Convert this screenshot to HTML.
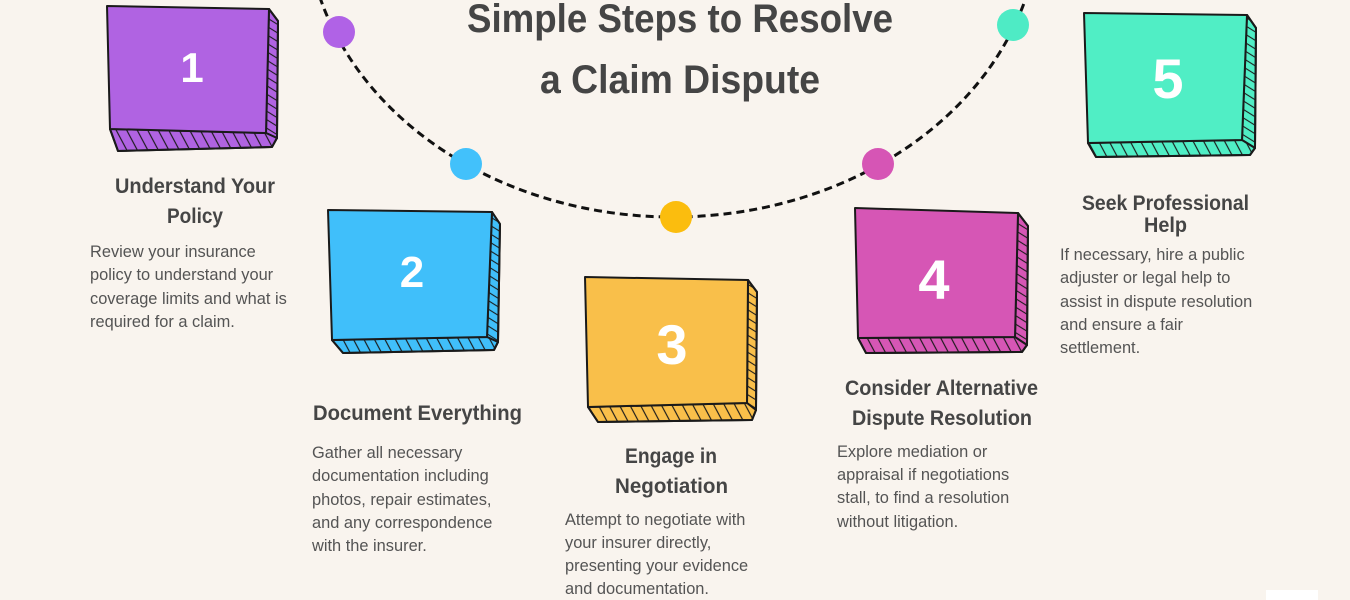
<!DOCTYPE html>
<html>
<head>
<meta charset="utf-8">
<style>
  html,body{margin:0;padding:0;background:#f9f4ee;}
  body{width:1350px;height:600px;overflow:hidden;}
  svg{display:block;}
  .h{font-family:"Liberation Sans",sans-serif;font-weight:bold;fill:#454545;}
  .b{font-family:"Liberation Sans",sans-serif;font-size:16.4px;fill:#545454;}
  .n{font-family:"Liberation Sans",sans-serif;font-weight:bold;fill:#ffffff;text-anchor:middle;}
</style>
</head>
<body>
<svg width="1350" height="600" viewBox="0 0 1350 600" xmlns="http://www.w3.org/2000/svg">
  <defs>
    <pattern id="hv" patternUnits="userSpaceOnUse" width="10.5" height="60" patternTransform="skewX(28)">
      <line x1="5" y1="0" x2="5" y2="60" stroke="#1a1a1a" stroke-width="1.3"/>
    </pattern>
    <pattern id="hh" patternUnits="userSpaceOnUse" width="60" height="8.5" patternTransform="skewY(32)">
      <line x1="0" y1="4" x2="60" y2="4" stroke="#1a1a1a" stroke-width="1.3"/>
    </pattern>
  </defs>
  <rect x="0" y="0" width="1350" height="600" fill="#f9f4ee"/>

  <!-- dashed arc -->
  <ellipse cx="673" cy="-85" rx="367" ry="302" fill="none" stroke="#111" stroke-width="3" stroke-dasharray="8 5"/>

  <!-- dots -->
  <circle cx="339" cy="32" r="16" fill="#b062e6"/>
  <circle cx="466" cy="164" r="16" fill="#42c1fb"/>
  <circle cx="676" cy="217" r="16" fill="#fbbd0e"/>
  <circle cx="878" cy="164" r="16" fill="#d655b5"/>
  <circle cx="1013" cy="25" r="16" fill="#4eebc5"/>

  <!-- Title -->
  <text class="h" x="467" y="32" font-size="40" textLength="426" lengthAdjust="spacingAndGlyphs">Simple Steps to Resolve</text>
  <text class="h" x="540" y="93" font-size="40" textLength="280" lengthAdjust="spacingAndGlyphs">a Claim Dispute</text>

  <!-- Box 1 -->
  <g stroke="#1a1a1a" stroke-width="2" stroke-linejoin="round">
    <polygon points="269,9 278,21 277,138 266,133" fill="#b063e2"/>
    <polygon points="269,9 278,21 277,138 266,133" fill="url(#hh)" stroke="none"/>
    <polygon points="110,129 266,133 277,138 272,147 118,151" fill="#b063e2"/>
    <polygon points="110,129 266,133 277,138 272,147 118,151" fill="url(#hv)" stroke="none"/>
    <polygon points="269,9 278,21 277,138 272,147 118,151 110,129" fill="none"/>
    <polygon points="107,6 269,9 266,133 110,129" fill="#b063e2"/>
  </g>
  <text class="n" x="192" y="82" font-size="42">1</text>

  <!-- Box 2 -->
  <g stroke="#1a1a1a" stroke-width="2" stroke-linejoin="round">
    <polygon points="492,212 500,224 498,342 487,337" fill="#40bffa"/>
    <polygon points="492,212 500,224 498,342 487,337" fill="url(#hh)" stroke="none"/>
    <polygon points="332,340 487,337 498,342 494,350 343,353" fill="#40bffa"/>
    <polygon points="332,340 487,337 498,342 494,350 343,353" fill="url(#hv)" stroke="none"/>
    <polygon points="492,212 500,224 498,342 494,350 343,353 332,340" fill="none"/>
    <polygon points="328,210 492,212 487,337 332,340" fill="#40bffa"/>
  </g>
  <text class="n" x="412" y="287" font-size="44">2</text>

  <!-- Box 3 -->
  <g stroke="#1a1a1a" stroke-width="2" stroke-linejoin="round">
    <polygon points="748,280 757,292 756,410 747,403" fill="#f9bf4a"/>
    <polygon points="748,280 757,292 756,410 747,403" fill="url(#hh)" stroke="none"/>
    <polygon points="588,407 747,403 756,410 752,420 598,422" fill="#f9bf4a"/>
    <polygon points="588,407 747,403 756,410 752,420 598,422" fill="url(#hv)" stroke="none"/>
    <polygon points="748,280 757,292 756,410 752,420 598,422 588,407" fill="none"/>
    <polygon points="585,277 748,280 747,403 588,407" fill="#f9bf4a"/>
  </g>
  <text class="n" x="672" y="364" font-size="56">3</text>

  <!-- Box 4 -->
  <g stroke="#1a1a1a" stroke-width="2" stroke-linejoin="round">
    <polygon points="1018,213 1028,226 1027,345 1015,337" fill="#d656b5"/>
    <polygon points="1018,213 1028,226 1027,345 1015,337" fill="url(#hh)" stroke="none"/>
    <polygon points="858,338 1015,337 1027,345 1022,352 866,353" fill="#d656b5"/>
    <polygon points="858,338 1015,337 1027,345 1022,352 866,353" fill="url(#hv)" stroke="none"/>
    <polygon points="1018,213 1028,226 1027,345 1022,352 866,353 858,338" fill="none"/>
    <polygon points="855,208 1018,213 1015,337 858,338" fill="#d656b5"/>
  </g>
  <text class="n" x="934" y="299" font-size="56">4</text>

  <!-- Box 5 -->
  <g stroke="#1a1a1a" stroke-width="2" stroke-linejoin="round">
    <polygon points="1247,15 1256,28 1255,148 1242,140" fill="#50eec5"/>
    <polygon points="1247,15 1256,28 1255,148 1242,140" fill="url(#hh)" stroke="none"/>
    <polygon points="1088,143 1242,140 1255,148 1250,155 1096,157" fill="#50eec5"/>
    <polygon points="1088,143 1242,140 1255,148 1250,155 1096,157" fill="url(#hv)" stroke="none"/>
    <polygon points="1247,15 1256,28 1255,148 1250,155 1096,157 1088,143" fill="none"/>
    <polygon points="1084,13 1247,15 1242,140 1088,143" fill="#50eec5"/>
  </g>
  <text class="n" x="1168" y="98" font-size="56">5</text>

  <!-- Step 1 text -->
  <text class="h" x="115" y="193" font-size="21" textLength="160" lengthAdjust="spacingAndGlyphs">Understand Your</text>
  <text class="h" x="167" y="223" font-size="21" textLength="56" lengthAdjust="spacingAndGlyphs">Policy</text>
  <text class="b" x="90" y="257">Review your insurance</text>
  <text class="b" x="90" y="280">policy to understand your</text>
  <text class="b" x="90" y="304">coverage limits and what is</text>
  <text class="b" x="90" y="327">required for a claim.</text>

  <!-- Step 2 text -->
  <text class="h" x="313" y="420" font-size="21" textLength="209" lengthAdjust="spacingAndGlyphs">Document Everything</text>
  <text class="b" x="312" y="458">Gather all necessary</text>
  <text class="b" x="312" y="481">documentation including</text>
  <text class="b" x="312" y="505">photos, repair estimates,</text>
  <text class="b" x="312" y="528">and any correspondence</text>
  <text class="b" x="312" y="551">with the insurer.</text>

  <!-- Step 3 text -->
  <text class="h" x="625" y="463" font-size="21" textLength="92" lengthAdjust="spacingAndGlyphs">Engage in</text>
  <text class="h" x="615" y="493" font-size="21" textLength="113" lengthAdjust="spacingAndGlyphs">Negotiation</text>
  <text class="b" x="565" y="525">Attempt to negotiate with</text>
  <text class="b" x="565" y="548">your insurer directly,</text>
  <text class="b" x="565" y="571">presenting your evidence</text>
  <text class="b" x="565" y="594">and documentation.</text>

  <!-- Step 4 text -->
  <text class="h" x="845" y="395" font-size="21" textLength="193" lengthAdjust="spacingAndGlyphs">Consider Alternative</text>
  <text class="h" x="852" y="425" font-size="21" textLength="180" lengthAdjust="spacingAndGlyphs">Dispute Resolution</text>
  <text class="b" x="837" y="457">Explore mediation or</text>
  <text class="b" x="837" y="480">appraisal if negotiations</text>
  <text class="b" x="837" y="503">stall, to find a resolution</text>
  <text class="b" x="837" y="527">without litigation.</text>

  <!-- Step 5 text -->
  <text class="h" x="1082" y="210" font-size="21" textLength="167" lengthAdjust="spacingAndGlyphs">Seek Professional</text>
  <text class="h" x="1144" y="232" font-size="21" textLength="43" lengthAdjust="spacingAndGlyphs">Help</text>
  <text class="b" x="1060" y="260">If necessary, hire a public</text>
  <text class="b" x="1060" y="283">adjuster or legal help to</text>
  <text class="b" x="1060" y="307">assist in dispute resolution</text>
  <text class="b" x="1060" y="330">and ensure a fair</text>
  <text class="b" x="1060" y="353">settlement.</text>

  <!-- small white tab bottom-right -->
  <rect x="1266" y="590" width="52" height="10" fill="#ffffff"/>
</svg>
</body>
</html>
